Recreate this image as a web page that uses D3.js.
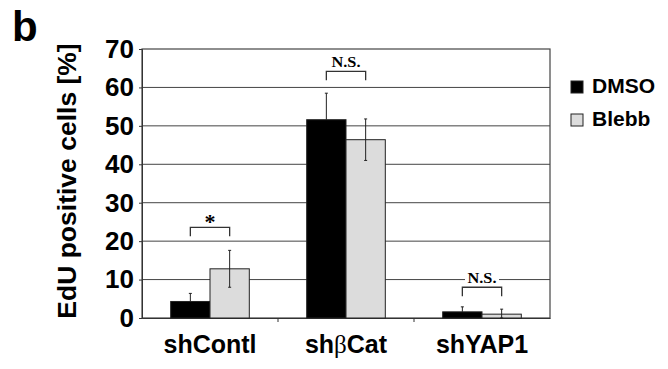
<!DOCTYPE html>
<html lang="en">
<head>
<meta charset="UTF-8">
<title>EdU positive cells</title>
<script src="https://cdn.jsdelivr.net/npm/d3@7"></script>
<style>
  body { margin: 0; background: #fff; }
</style>
</head>
<body>
<svg width="668" height="369" font-family="Liberation Sans, Arial, sans-serif"></svg>
<script>
var categories = ["shContl", "shβCat", "shYAP1"];
var series = ["DMSO", "Blebb"];
var dmso = [4.3, 51.6, 1.6];
var blebb = [12.8, 46.4, 1.0];
var dmsoErr = [2.1, 6.9, 1.3];
var blebbErr = [4.8, 5.4, 1.3];
var yTicks = [0, 10, 20, 30, 40, 50, 60, 70];
var sigLabels = ["*", "N.S.", "N.S."];
var sigLevel = [23.6, 64.2, 8.0];

var colors = { DMSO: "#000000", Blebb: "#dcdcdc" };

var svg = d3.select("svg");
var marge = { top: 49, left: 142, right: 118, bottom: 51 };
var width = 668, height = 369;
var plotW = width - marge.left - marge.right;
var plotH = height - marge.top - marge.bottom;

var g = svg.append("g")
  .attr("transform", "translate(" + marge.left + "," + marge.top + ")");

var xScale = d3.scaleBand().domain(categories).range([0, plotW]);
var xSub = d3.scaleBand().domain(series).range([0, xScale.bandwidth()]).paddingOuter(0.73);
var yScale = d3.scaleLinear().domain([0, 70]).range([plotH, 0]);

// gridlines
g.selectAll(".grid")
  .data(yTicks.slice(1, -1))
  .enter().append("line")
  .attr("x1", 0).attr("x2", plotW)
  .attr("y1", function(d){ return yScale(d); })
  .attr("y2", function(d){ return yScale(d); })
  .attr("stroke", "#444").attr("stroke-width", 1);

// frame
g.append("rect")
  .attr("x", 0).attr("y", 0).attr("width", plotW).attr("height", plotH)
  .attr("fill", "none").attr("stroke", "#444").attr("stroke-width", 1.2);

// y axis
var yAxis = d3.axisLeft(yScale).tickValues(yTicks).tickSize(3).tickPadding(5);
var ya = g.append("g").call(yAxis);
ya.select(".domain").attr("stroke", "#333");
ya.selectAll(".tick line").attr("stroke", "#333");
ya.selectAll("text")
  .attr("font-size", 26).attr("font-weight", "bold").attr("fill", "#000")
  .attr("font-family", "Liberation Sans, Arial, sans-serif");

// x axis
var xAxis = d3.axisBottom(xScale).tickSize(0).tickPadding(14);
var xa = g.append("g").attr("transform", "translate(0," + plotH + ")").call(xAxis);
xa.select(".domain").attr("stroke", "#333");
xa.selectAll("text").remove();
xa.selectAll(".tick").each(function(d){
  var t = d3.select(this).append("text")
    .attr("y", 35).attr("text-anchor", "middle")
    .attr("font-size", 25).attr("font-weight", "bold").attr("fill", "#000")
    .attr("font-family", "Liberation Sans, Arial, sans-serif");
  if (d.indexOf("β") >= 0) {
    var parts = d.split("β");
    t.append("tspan").text(parts[0]);
    t.append("tspan").text("β").attr("font-family", "Liberation Serif, serif").attr("font-weight", "normal");
    t.append("tspan").text(parts[1]);
  } else {
    t.text(d);
  }
});
// category separator ticks
g.selectAll(".septick")
  .data([1, 2])
  .enter().append("line")
  .attr("x1", function(d){ return d * xScale.step(); })
  .attr("x2", function(d){ return d * xScale.step(); })
  .attr("y1", plotH).attr("y2", plotH + 4)
  .attr("stroke", "#333");

// bars
var rows = categories.map(function(c, i){
  return [
    { cat: c, s: "DMSO", v: dmso[i], e: dmsoErr[i] },
    { cat: c, s: "Blebb", v: blebb[i], e: blebbErr[i] }
  ];
});
var gs = g.selectAll(".grp").data(rows).enter().append("g")
  .attr("transform", function(d){ return "translate(" + xScale(d[0].cat) + ",0)"; });

gs.selectAll("rect").data(function(d){ return d; }).enter().append("rect")
  .attr("x", function(d){ return xSub(d.s); })
  .attr("y", function(d){ return yScale(d.v); })
  .attr("width", xSub.bandwidth())
  .attr("height", function(d){ return plotH - yScale(d.v); })
  .attr("fill", function(d){ return colors[d.s]; })
  .attr("stroke", "#222").attr("stroke-width", 1);

// error bars (lower half hidden inside the black bars)
var eb = gs.selectAll(".err").data(function(d){ return d; }).enter().append("g")
  .attr("transform", function(d){ return "translate(" + (xSub(d.s) + xSub.bandwidth() / 2) + ",0)"; });
eb.append("line")
  .attr("y1", function(d){ return yScale(d.v + d.e); })
  .attr("y2", function(d){ return d.s === "DMSO" ? yScale(d.v) : yScale(Math.max(0, d.v - d.e)); })
  .attr("stroke", "#222")
  .attr("stroke-width", 1);
eb.append("line")
  .attr("x1", -1.5).attr("x2", 1.5)
  .attr("y1", function(d){ return yScale(d.v + d.e); })
  .attr("y2", function(d){ return yScale(d.v + d.e); })
  .attr("stroke", "#222");
eb.filter(function(d){ return d.s === "Blebb"; }).append("line")
  .attr("x1", -1.5).attr("x2", 1.5)
  .attr("y1", function(d){ return yScale(Math.max(0, d.v - d.e)); })
  .attr("y2", function(d){ return yScale(Math.max(0, d.v - d.e)); })
  .attr("stroke", "#222");

// significance brackets
var sig = gs.append("g");
sig.each(function(d, i){
  var s = d3.select(this);
  var x1 = xSub("DMSO") + xSub.bandwidth() / 2;
  var x2 = xSub("Blebb") + xSub.bandwidth() / 2;
  var yT = yScale(sigLevel[i]);
  s.append("path")
    .attr("d", "M" + x1 + "," + (yT + 9) + "V" + yT + "H" + x2 + "V" + (yT + 9))
    .attr("fill", "none").attr("stroke", "#333").attr("stroke-width", 1.3);
  var mid = (x1 + x2) / 2;
  if (sigLabels[i] === "*") {
    s.append("text").attr("x", mid).attr("y", yT + 2).attr("text-anchor", "middle")
      .attr("font-family", "Liberation Serif, serif").attr("font-size", 22)
      .attr("font-weight", "bold").text(sigLabels[i]);
  } else {
    s.append("rect").attr("x", mid - 17).attr("y", yT - 16).attr("width", 34).attr("height", 13)
      .attr("fill", "#fff");
    s.append("text").attr("x", mid).attr("y", yT - 4.5).attr("text-anchor", "middle")
      .attr("font-family", "Liberation Serif, serif").attr("font-size", 15)
      .attr("font-weight", "bold").attr("textLength", 29).attr("lengthAdjust", "spacingAndGlyphs")
      .text(sigLabels[i]);
  }
});

// y axis title
svg.append("text")
  .attr("transform", "translate(76,181) rotate(-90)")
  .attr("text-anchor", "middle")
  .attr("font-size", 26.5).attr("font-weight", "bold")
  .text("EdU positive cells [%]");

// panel label
svg.append("text")
  .attr("x", 12).attr("y", 41)
  .attr("font-size", 42).attr("font-weight", "bold")
  .text("b");

// legend
var leg = svg.selectAll(".leg").data(series).enter().append("g")
  .attr("transform", function(d, i){ return "translate(571," + (81 + i * 33) + ")"; });
leg.append("rect")
  .attr("width", 12).attr("height", 12)
  .attr("fill", function(d){ return colors[d]; })
  .attr("stroke", "#222").attr("stroke-width", 1);
leg.append("text")
  .attr("x", 21).attr("y", 12)
  .attr("font-size", 21).attr("font-weight", "bold")
  .text(function(d){ return d; });
</script>
</body>
</html>
